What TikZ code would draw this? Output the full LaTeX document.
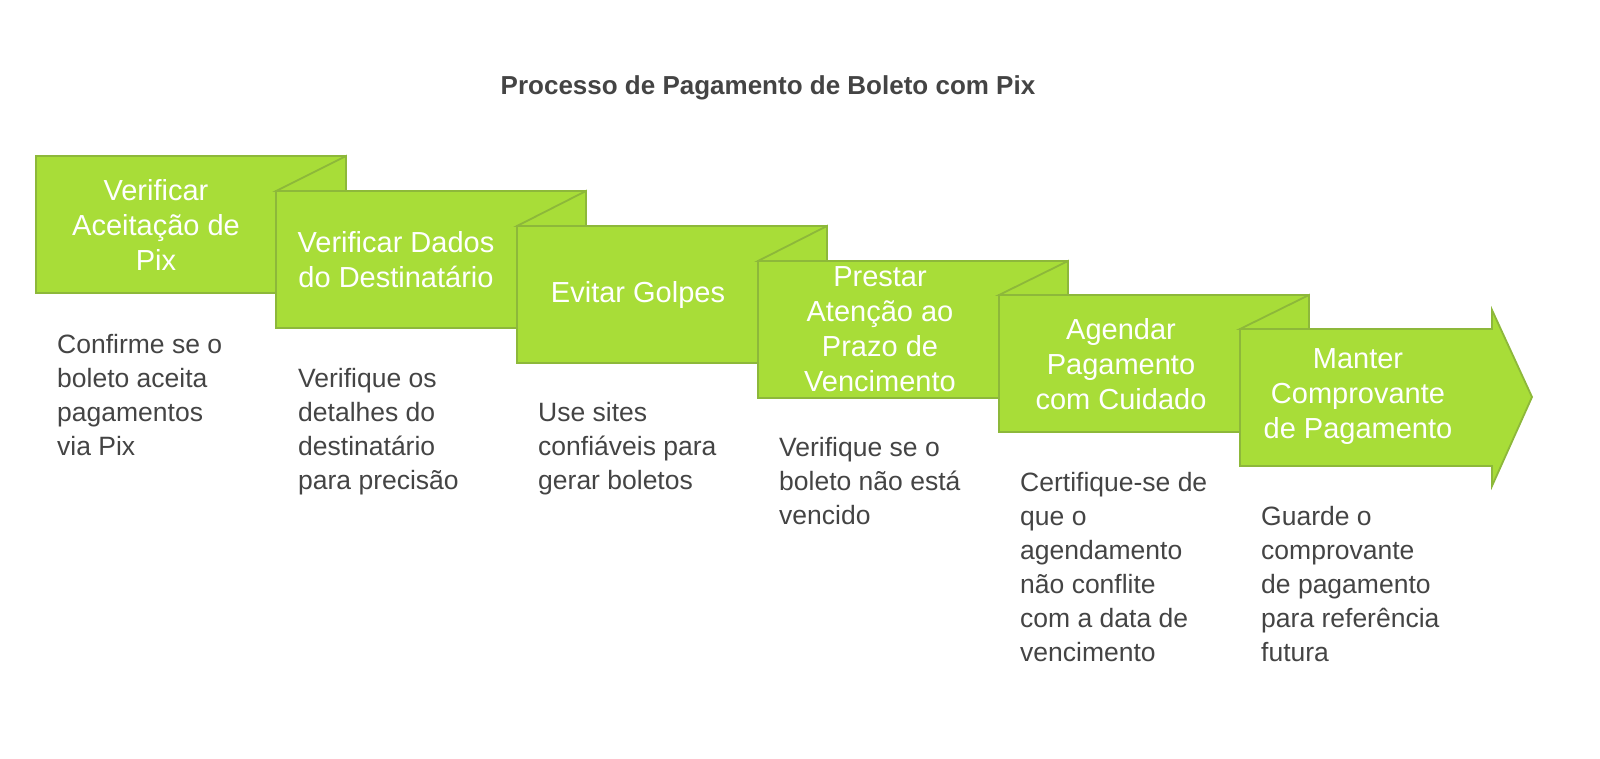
\documentclass[tikz,border=0pt]{standalone}
\usepackage{fontspec}
\setmainfont{Liberation Sans}
\definecolor{gfill}{HTML}{A8DD38}
\definecolor{gline}{HTML}{8DB83A}
\definecolor{txt}{HTML}{444444}
\begin{document}
\begin{tikzpicture}[x=1pt,y=-1pt,
  box/.style={fill=gfill,draw=gline,line width=1.8pt,line join=miter},
  btxt/.style={text=white,font=\fontsize{29}{35}\selectfont,align=center},
  dtxt/.style={text=txt,font=\fontsize{26.5}{34}\selectfont,align=left,anchor=north west,inner sep=0pt}]
\useasboundingbox (0,0) rectangle (1600,758);
\node[font=\bfseries\fontsize{26}{30}\selectfont,text=txt] (title) at (768,88) {Processo de Pagamento de Boleto com Pix};
\draw[box] (36,156) rectangle (346,293);
\draw[box] (276,191) -- (346,156) -- (346,191) -- cycle;
\draw[box] (276,191) rectangle (586,328);
\draw[box] (517,226) -- (586,191) -- (586,226) -- cycle;
\draw[box] (517,226) rectangle (827,363);
\draw[box] (758,261) -- (827,226) -- (827,261) -- cycle;
\draw[box] (758,261) rectangle (1068,398);
\draw[box] (999,295) -- (1068,261) -- (1068,295) -- cycle;
\draw[box] (999,295) rectangle (1309,432);
\draw[box] (1240,329) -- (1309,295) -- (1309,329) -- cycle;
\draw[box] (1240,329) -- (1492,329) -- (1492,310) -- (1532,397) -- (1492,486) -- (1492,466) -- (1240,466) -- cycle;
\node[btxt] (b1) at (156,225) {Verificar\\Aceitação de\\Pix};
\node[btxt] (b2) at (396,260) {Verificar Dados\\do Destinatário};
\node[btxt] (b3) at (638,295) {Evitar Golpes};
\node[btxt] (b4) at (880,329) {Prestar\\Atenção ao\\Prazo de\\Vencimento};
\node[btxt] (b5) at (1121,364) {Agendar\\Pagamento\\com Cuidado};
\node[btxt] (b6) at (1358,397) {Manter\\Comprovante\\de Pagamento};
\node[dtxt] (d1) at (57,334) {Confirme se o\\boleto aceita\\pagamentos\\via Pix};
\node[dtxt] (d2) at (298,368) {Verifique os\\detalhes do\\destinatário\\para precisão};
\node[dtxt] (d3) at (538,402) {Use sites\\confiáveis para\\gerar boletos};
\node[dtxt] (d4) at (779,437) {Verifique se o\\boleto não está\\vencido};
\node[dtxt] (d5) at (1020,472) {Certifique-se de\\que o\\agendamento\\não conflite\\com a data de\\vencimento};
\node[dtxt] (d6) at (1261,506) {Guarde o\\comprovante\\de pagamento\\para referência\\futura};
\end{tikzpicture}
\end{document}
